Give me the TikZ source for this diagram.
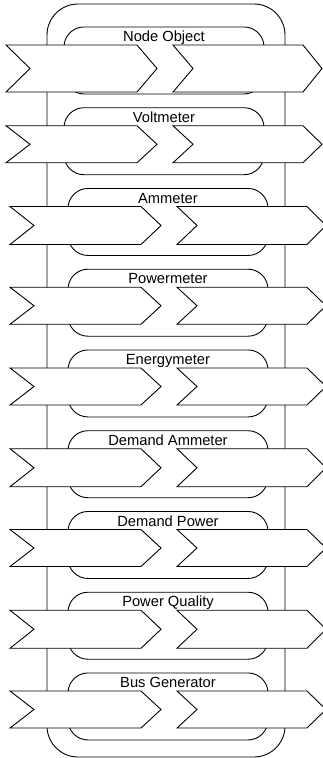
\documentclass[tikz,border=0pt]{standalone}
\usepackage{fontspec}
\setmainfont{Liberation Sans}

\begin{document}
\begin{tikzpicture}[x=1pt, y=-1pt, line width=0.9pt]
  \useasboundingbox (0,0) rectangle (322,758);

  % outer frame
  \draw[rounded corners=31pt] (47,4) rectangle (285,757);

  \foreach\name/\lbl/\dx/\h in {0/Node Object/0/47, 1/Voltmeter/0/37, 2/Ammeter/4/38,
      3/Powermeter/4/37, 4/Energymeter/4/37, 5/Demand Ammeter/4/38,
      6/Demand Power/4/37, 7/Power Quality/4/38, 8/Bus Generator/4/37}{
      \pgfmathsetmacro\y{45+80.75*\name}
  	\node[draw, rounded corners=20pt, minimum width=200pt, minimum height=67pt, inner sep=0pt, anchor=north] (meter\name) at (164+\dx, \y-18.5) {};
  	\node[anchor=base, inner sep=0pt, font=\fontsize{14.7}{17}\selectfont] (label\name) at ([yshift=-15pt]meter\name.north) {\lbl};
      % in / out chevrons
      \draw[fill=white] (6+\dx,\y) -- ++(131,0) -- ++(20,\h/2) -- ++(-20,\h/2) -- ++(-131,0) -- ++(24,-\h/2) -- cycle;
      \draw[fill=white] (173+\dx,\y) -- ++(130,0) -- ++(19,\h/2) -- ++(-19,\h/2) -- ++(-130,0) -- ++(20,-\h/2) -- cycle;
  }
\end{tikzpicture}
\end{document}
